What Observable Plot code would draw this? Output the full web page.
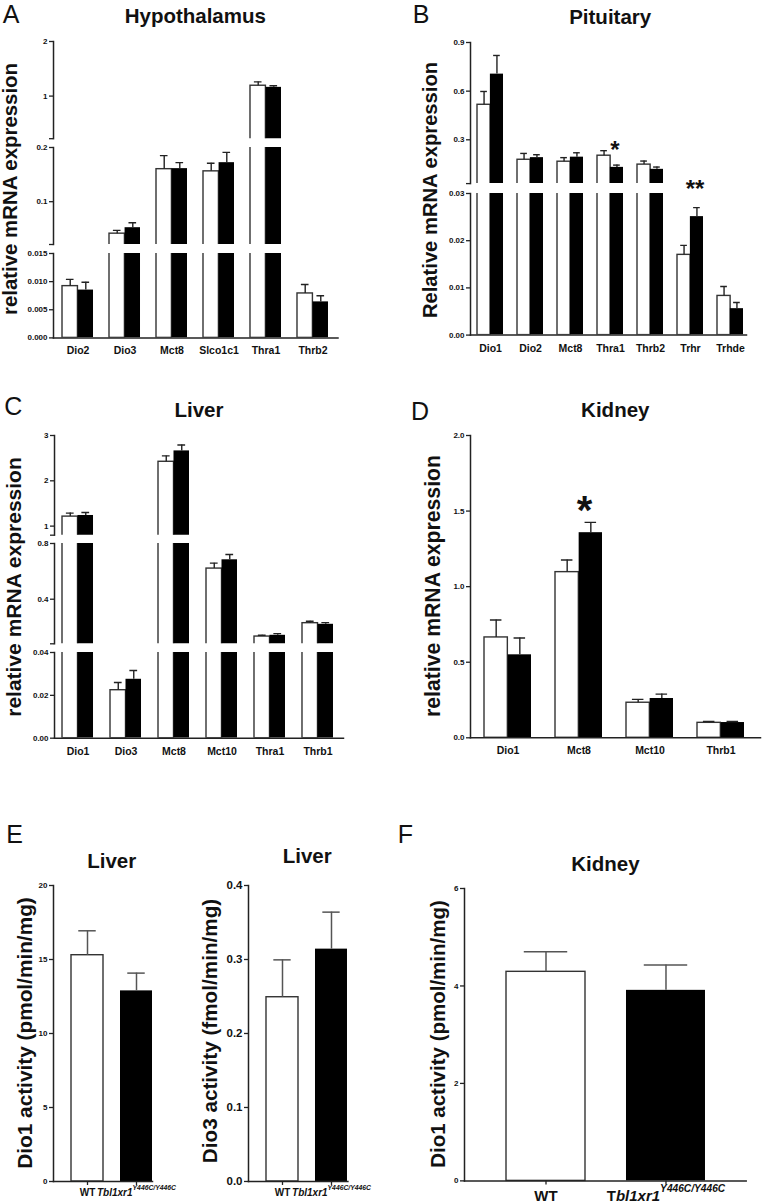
<!DOCTYPE html>
<html><head><meta charset="utf-8">
<script src="https://cdn.jsdelivr.net/npm/d3@7"></script>
<script src="https://cdn.jsdelivr.net/npm/@observablehq/plot@0.6"></script>
<style>
html,body{margin:0;padding:0;background:#fff;}
#fig{position:relative;width:762px;height:1204px;overflow:hidden;background:#fff;font-family:"Liberation Sans",Arial,Helvetica,sans-serif;color:#111;}
.t{position:absolute;white-space:nowrap;line-height:1;transform:translate(-50%,-50%);}
.r{transform:translate(-50%,-50%) rotate(-90deg);}
</style></head><body><div id="fig"></div>
<script>
// ---------- DATA ----------
// A: Hypothalamus
const aCats = ["Dio2","Dio3","Mct8","Slco1c1","Thra1","Thrb2"];
const aWT    = [0.0092, 0.041, 0.160, 0.156, 1.19, 0.0079];
const aWTsem = [0.0012, 0.006, 0.025, 0.015, 0.07, 0.0016];
const aKO    = [0.0085, 0.052, 0.161, 0.172, 1.16, 0.0064];
const aKOsem = [0.0014, 0.009, 0.011, 0.019, 0.03, 0.0011];
const aTicksTop = [0.22, 1, 2],          aLabelsTop = ["", "1", "2"];
const aTicksMid = [0.021, 0.1, 0.2],     aLabelsMid = ["", "0.1", "0.2"];
const aTicksLow = [0, 0.005, 0.01, 0.015], aLabelsLow = ["0.000","0.005","0.010","0.015"];

// B: Pituitary
const bCats = ["Dio1","Dio2","Mct8","Thra1","Thrb2","Trhr","Trhde"];
const bWT    = [0.516, 0.177, 0.165, 0.202, 0.147, 0.0170, 0.0083];
const bWTsem = [0.082, 0.039, 0.025, 0.031, 0.022, 0.0020, 0.0020];
const bKO    = [0.705, 0.190, 0.193, 0.130, 0.118, 0.0251, 0.0056];
const bKOsem = [0.115, 0.018, 0.027, 0.014, 0.014, 0.0019, 0.0013];
const bTicksTop = [0.03, 0.3, 0.6, 0.9],  bLabelsTop = ["", "0.3", "0.6", "0.9"];
const bTicksLow = [0, 0.01, 0.02, 0.03],  bLabelsLow = ["0.00","0.01","0.02","0.03"];
const bStarCats = ["Thra1","Trhr"], bStarText = ["*","**"], bStarY = [0.271, 0.0321];

// C: Liver
const cCats = ["Dio1","Dio3","Mct8","Mct10","Thra1","Thrb1"];
const cWT    = [1.21, 0.0224, 2.42, 0.62, 0.132, 0.228];
const cWTsem = [0.077, 0.0036, 0.13, 0.039, 0.009, 0.014];
const cKO    = [1.235, 0.0275, 2.66, 0.683, 0.141, 0.220];
const cKOsem = [0.065, 0.0041, 0.13, 0.038, 0.012, 0.012];
const cTicksTop = [0.8, 1, 2, 3],   cLabelsTop = ["", "1", "2", "3"];
const cTicksMid = [0.08, 0.4, 0.8], cLabelsMid = ["", "0.4", "0.8"];
const cTicksLow = [0, 0.02, 0.04],  cLabelsLow = ["0.00","0.02","0.04"];

// D: Kidney
const dCats = ["Dio1","Mct8","Mct10","Thrb1"];
const dWT    = [0.664, 1.096, 0.232, 0.099];
const dWTsem = [0.115, 0.080, 0.022, 0.009];
const dKO    = [0.549, 1.357, 0.260, 0.101];
const dKOsem = [0.111, 0.068, 0.029, 0.007];
const dTicks = [0, 0.5, 1, 1.5, 2], dLabels = ["0.0","0.5","1.0","1.5","2.0"];
const dStarCats = ["Mct8"], dStarText = ["*"], dStarY = [1.57];

// E/F: enzyme activity
const groups = ["WT", "Tbl1xr1"];
const genotypeSup = "Y446C/Y446C";
const e1Vals = [15.29, 12.88], e1Sem = [1.65, 1.20];
const e1Ticks = [0, 5, 10, 15, 20], e1Labels = ["0","5","10","15","20"];
const e2Vals = [0.249, 0.314], e2Sem = [0.0505, 0.050];
const e2Ticks = [0, 0.1, 0.2, 0.3, 0.4], e2Labels = ["0.0","0.1","0.2","0.3","0.4"];
const fVals = [4.29, 3.91], fSem = [0.41, 0.52];
const fTicks = [0, 2, 4, 6], fLabels = ["0","2","4","6"];

// ---------- HELPERS ----------
const FONT = '"Liberation Sans", Arial, Helvetica, sans-serif';
const AX = "#222";
const fig = document.getElementById("fig");

function txt(s, x, y, size, weight, rot) {
  const d = document.createElement("div");
  d.className = "t" + (rot ? " r" : "");
  d.textContent = s;
  d.style.left = x + "px"; d.style.top = y + "px";
  d.style.fontSize = size + "px"; d.style.fontWeight = weight;
  fig.appendChild(d);
}
function place(svg, x, y) {
  svg.style.position = "absolute";
  svg.style.left = x + "px"; svg.style.top = y + "px";
  fig.appendChild(svg);
}
function pairRows(cats, wt, wtSem, ko, koSem) {
  return cats.map((c, i) => ({cat: c, wt: wt[i], wtHi: wt[i] + wtSem[i], ko: ko[i], koHi: ko[i] + koSem[i]}));
}
function starRows(cats, text, ys) {
  return cats.map((c, i) => ({cat: c, s: text[i], y: ys[i]}));
}

function groupedSegment(cfg, seg) {
  const {rows, cats, axisL, axisR, bx0, bx1, pi, stars = [], starSize = 19, starDx = 0} = cfg;
  const {top, bottom, ticks, labels, xAxis} = seg;
  const mL = 44, mR = 6, mT = 28, mB = xAxis ? 28 : 10;
  const width = axisR - axisL + mL + mR, height = bottom - top + mT + mB;
  const ox = axisL - mL, oy = top - mT;
  const po = pi / 2, n = cats.length;
  const step = (bx1 - bx0) / (n - pi + 2 * po);
  const bw = step * (1 - pi), q = bw / 4, cap = bw / 4;
  const domain = d3.extent(ticks);
  const sr = stars.filter(s => s.y >= domain[0] && s.y <= domain[1]);
  const errStyle = {stroke: AX, strokeWidth: 1.4, clip: true};
  const marks = [
    Plot.barY(rows, {x: "cat", y1: () => 0, y2: "wt", fill: "#fff", stroke: "#333", strokeWidth: 1.4, insetRight: 2 * q, clip: true}),
    Plot.barY(rows, {x: "cat", y1: () => 0, y2: "ko", fill: "#000", insetLeft: 2 * q, clip: true}),
    Plot.ruleX(rows, {x: "cat", y1: "wt", y2: "wtHi", dx: -q, ...errStyle}),
    Plot.tickY(rows, {x: "cat", y: "wtHi", insetLeft: q - cap / 2, insetRight: 3 * q - cap / 2, ...errStyle}),
    Plot.ruleX(rows, {x: "cat", y1: "ko", y2: "koHi", dx: q, ...errStyle}),
    Plot.tickY(rows, {x: "cat", y: "koHi", insetLeft: 3 * q - cap / 2, insetRight: q - cap / 2, ...errStyle}),
    Plot.frame({anchor: "left", stroke: AX, strokeWidth: 1.5}),
    Plot.axisY({ticks, tickFormat: d => labels[ticks.indexOf(d)], tickSize: 4, tickPadding: 2, fontSize: 8, fontWeight: "bold", label: null, stroke: AX, strokeWidth: 1.3}),
    Plot.text(sr, {x: "cat", y: "y", text: "s", fontSize: starSize, fontWeight: "bold", dx: starDx, dy: 0.26 * starSize, fill: "#111"})
  ];
  if (xAxis) {
    marks.push(Plot.frame({anchor: "bottom", stroke: AX, strokeWidth: 1.5}));
    marks.push(Plot.axisX({tickSize: 0, tickPadding: 9, fontSize: 10.5, fontWeight: "bold", label: null}));
  }
  const svg = Plot.plot({
    width, height, marginLeft: mL, marginRight: mR, marginTop: mT, marginBottom: mB,
    style: {fontFamily: FONT, background: "none", overflow: "visible", color: "#111"},
    x: Object.assign({type: "band", domain: cats, range: [bx0 - ox, bx1 - ox], paddingInner: pi, paddingOuter: po, align: 0.5}, xAxis ? {} : {axis: null}),
    y: {domain},
    marks
  });
  place(svg, ox, oy);
}

function singlePanel(cfg) {
  const {vals, sems, axisL, axisR, bx0, bx1, pi, po, top, bottom, ticks, labels, tickFont, xFont, xPad, upright} = cfg;
  const rows = groups.map((g, i) => ({g, v: vals[i], hi: vals[i] + sems[i]}));
  const mL = 44, mR = 6, mT = 10, mB = 30;
  const width = axisR - axisL + mL + mR, height = bottom - top + mT + mB;
  const ox = axisL - mL, oy = top - mT;
  const n = groups.length;
  const step = (bx1 - bx0) / (n - pi + 2 * po);
  const bw = step * (1 - pi), cap = bw * 0.55;
  const domain = d3.extent(ticks);
  const errStyle = {stroke: "#555", strokeWidth: 1.5};
  const svg = Plot.plot({
    width, height, marginLeft: mL, marginRight: mR, marginTop: mT, marginBottom: mB,
    style: {fontFamily: FONT, background: "none", overflow: "visible", color: "#111"},
    x: {type: "band", domain: groups, range: [bx0 - ox, bx1 - ox], paddingInner: pi, paddingOuter: po, align: 0.5},
    y: {domain},
    marks: [
      Plot.barY([rows[0]], {x: "g", y1: () => 0, y2: "v", fill: "#fff", stroke: "#333", strokeWidth: 1.4}),
      Plot.barY([rows[1]], {x: "g", y1: () => 0, y2: "v", fill: "#000"}),
      Plot.ruleX(rows, {x: "g", y1: "v", y2: "hi", ...errStyle}),
      Plot.tickY(rows, {x: "g", y: "hi", insetLeft: (bw - cap) / 2, insetRight: (bw - cap) / 2, ...errStyle}),
      Plot.frame({anchor: "left", stroke: AX, strokeWidth: 1.5}),
      Plot.frame({anchor: "bottom", stroke: AX, strokeWidth: 1.5}),
      Plot.axisY({ticks, tickFormat: d => labels[ticks.indexOf(d)], tickSize: 4, tickPadding: 2, fontSize: tickFont, fontWeight: "bold", label: null, stroke: AX, strokeWidth: 1.3}),
      Plot.axisX({tickSize: 4, tickPadding: xPad, fontSize: xFont, fontWeight: "bold", label: null, stroke: AX, strokeWidth: 1.3})
    ]
  });
  d3.select(svg).selectAll("text").each(function () {
    if (this.textContent === groups[1]) {
      const t = d3.select(this);
      t.text("");
      if (upright) {
        t.append("tspan").text(groups[1].slice(0, 1));
        t.append("tspan").attr("font-style", "italic").text(groups[1].slice(1));
      } else {
        t.append("tspan").attr("font-style", "italic").text(groups[1]);
      }
      t.append("tspan").attr("font-style", "italic").attr("font-size", "0.68em").attr("dy", "-0.95em").text(genotypeSup);
    }
  });
  place(svg, ox, oy);
}

// ---------- PANEL A ----------
const cfgA = {rows: pairRows(aCats, aWT, aWTsem, aKO, aKOsem), cats: aCats, axisL: 52.5, axisR: 337, bx0: 53.4, bx1: 336.6, pi: 0.34};
groupedSegment(cfgA, {top: 40.7, bottom: 137.9, ticks: aTicksTop, labels: aLabelsTop});
groupedSegment(cfgA, {top: 147, bottom: 244, ticks: aTicksMid, labels: aLabelsMid});
groupedSegment(cfgA, {top: 253.3, bottom: 337.7, ticks: aTicksLow, labels: aLabelsLow, xAxis: true});

// ---------- PANEL B ----------
const cfgB = {rows: pairRows(bCats, bWT, bWTsem, bKO, bKOsem), cats: bCats, axisL: 470, axisR: 746, bx0: 468.6, bx1: 750.4, pi: 0.36,
  stars: starRows(bStarCats, bStarText, bStarY), starSize: 24, starDx: 4.5};
groupedSegment(cfgB, {top: 42, bottom: 183.1, ticks: bTicksTop, labels: bLabelsTop});
groupedSegment(cfgB, {top: 192.7, bottom: 334.3, ticks: bTicksLow, labels: bLabelsLow, xAxis: true});

// ---------- PANEL C ----------
const cfgC = {rows: pairRows(cCats, cWT, cWTsem, cKO, cKOsem), cats: cCats, axisL: 54, axisR: 343, bx0: 53.2, bx1: 342.4, pi: 0.357};
groupedSegment(cfgC, {top: 434.7, bottom: 534.4, ticks: cTicksTop, labels: cLabelsTop});
groupedSegment(cfgC, {top: 543, bottom: 643.3, ticks: cTicksMid, labels: cLabelsMid});
groupedSegment(cfgC, {top: 652, bottom: 737.7, ticks: cTicksLow, labels: cLabelsLow, xAxis: true});

// ---------- PANEL D ----------
const cfgD = {rows: pairRows(dCats, dWT, dWTsem, dKO, dKOsem), cats: dCats, axisL: 470, axisR: 760, bx0: 470, bx1: 757.6, pi: 0.342,
  stars: starRows(dStarCats, dStarText, dStarY), starSize: 40, starDx: 5.5};
groupedSegment(cfgD, {top: 434.7, bottom: 737, ticks: dTicks, labels: dLabels, xAxis: true});

// ---------- PANEL E ----------
singlePanel({vals: e1Vals, sems: e1Sem, axisL: 53.3, axisR: 152.3, bx0: 70.7, bx1: 152.3, pi: 0.345, po: 0,
  top: 884.7, bottom: 1180.7, ticks: e1Ticks, labels: e1Labels, tickFont: 8, xFont: 10, xPad: 3.5});
singlePanel({vals: e2Vals, sems: e2Sem, axisL: 248.3, axisR: 347.7, bx0: 265.7, bx1: 347.7, pi: 0.34, po: 0,
  top: 885, bottom: 1181, ticks: e2Ticks, labels: e2Labels, tickFont: 11.5, xFont: 10, xPad: 3.5});

// ---------- PANEL F ----------
singlePanel({vals: fVals, sems: fSem, axisL: 464.3, axisR: 746, bx0: 464.3, bx1: 746, pi: 0.345, po: 0.34,
  top: 888.3, bottom: 1180.7, ticks: fTicks, labels: fLabels, tickFont: 8, xFont: 15, xPad: 5.8, upright: true});

// ---------- TEXT ----------
txt("A", 11, 13.5, 25, "normal");
txt("B", 421, 13.5, 25, "normal");
txt("C", 13.3, 406, 25, "normal");
txt("D", 420, 411, 25, "normal");
txt("E", 14.7, 834, 25, "normal");
txt("F", 405.5, 834, 25, "normal");

txt("Hypothalamus", 195.3, 15.5, 20.5, "bold");
txt("Pituitary", 610.2, 17.2, 20.5, "bold");
txt("Liver", 199, 410.3, 20.5, "bold");
txt("Kidney", 615.3, 410.3, 20.5, "bold");
txt("Liver", 111.7, 860.7, 20.5, "bold");
txt("Liver", 307.2, 856.3, 20.5, "bold");
txt("Kidney", 605.5, 863.7, 20.5, "bold");

txt("relative mRNA expression", 10, 189.2, 20.4, "bold", true);
txt("Relative mRNA expression", 429.6, 190, 20.2, "bold", true);
txt("relative mRNA expression", 12.5, 586.7, 21, "bold", true);
txt("relative mRNA expression", 432.9, 585.8, 21.2, "bold", true);
txt("Dio1 activity (pmol/min/mg)", 25, 1032.5, 20.8, "bold", true);
txt("Dio3 activity (fmol/min/mg)", 210, 1030.8, 20.7, "bold", true);
txt("Dio1 activity (pmol/min/mg)", 437.6, 1034.2, 20.5, "bold", true);
</script>
</body></html>
